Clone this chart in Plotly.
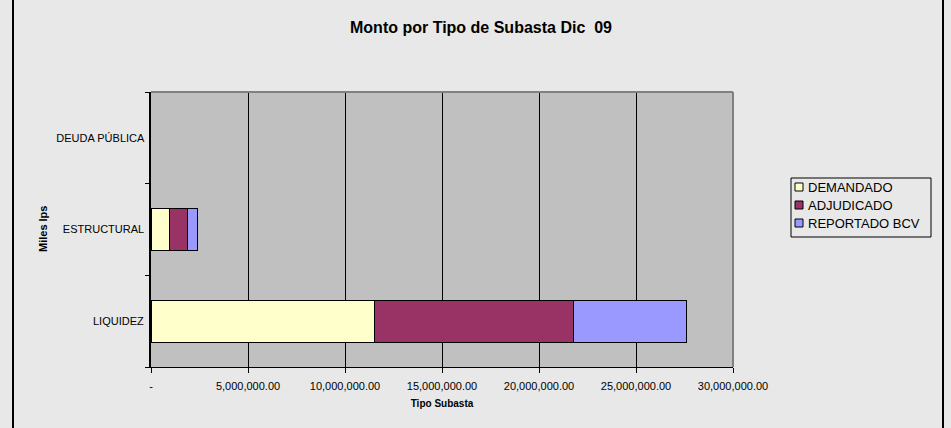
import plotly.graph_objects as go

categories = ["LIQUIDEZ", "ESTRUCTURAL", "DEUDA PÚBLICA"]
series_names = ["DEMANDADO", "ADJUDICADO", "REPORTADO BCV"]
demandado = [11500000, 950000, 0]
adjudicado = [10300000, 940000, 0]
reportado = [5790000, 490000, 0]
colors = ["#FFFFCC", "#993366", "#9999FF"]
tick_vals = [0, 5000000, 10000000, 15000000, 20000000, 25000000, 30000000]
tick_text = ["-", "5,000,000.00", "10,000,000.00", "15,000,000.00",
             "20,000,000.00", "25,000,000.00", "30,000,000.00"]

# plot area in pixels
L, R, T, B = 151, 733, 92, 367
W, H = 951, 428
pw, ph = R - L, B - T


def px(x):
    return (x - L) / pw


def py(y):
    return (B - y) / ph


fig = go.Figure()
for name, vals, col in zip(series_names, [demandado, adjudicado, reportado], colors):
    fig.add_trace(go.Bar(
        y=categories, x=vals, name=name, orientation="h",
        marker=dict(color=col,
                    line=dict(color="#000000", width=[1 if v > 0 else 0 for v in vals])),
    ))

shapes = [
    dict(type="line", xref="paper", yref="paper", x0=0, x1=1, y0=1, y1=1,
         line=dict(color="#808080", width=2)),
    dict(type="line", xref="paper", yref="paper", x0=1, x1=1, y0=0, y1=1,
         line=dict(color="#808080", width=2)),
    dict(type="line", xref="paper", yref="paper", x0=px(13), x1=px(13), y0=py(440), y1=py(-10),
         line=dict(color="#000000", width=2)),
    dict(type="line", xref="paper", yref="paper", x0=px(943), x1=px(943), y0=py(440), y1=py(-10),
         line=dict(color="#000000", width=2)),
    # legend box
    dict(type="rect", xref="paper", yref="paper", x0=px(791), x1=px(931), y0=py(237), y1=py(178),
         line=dict(color="#000000", width=1), fillcolor="rgba(0,0,0,0)"),
]
annotations = [
    dict(text="<b>Miles lps</b>", xref="paper", yref="paper", x=px(43), y=py(229),
         textangle=-90, showarrow=False, font=dict(size=11), xanchor="center", yanchor="middle"),
]
for i, (name, col) in enumerate(zip(series_names, colors)):
    cy = 187 + i * 18
    shapes.append(dict(type="rect", xref="paper", yref="paper",
                       x0=px(795), x1=px(803), y0=py(cy + 4), y1=py(cy - 4),
                       line=dict(color="#000000", width=1), fillcolor=col))
    annotations.append(dict(text=name, xref="paper", yref="paper", x=px(806), y=py(cy),
                            xanchor="left", yanchor="middle", showarrow=False,
                            font=dict(size=13)))

fig.update_layout(
    barmode="stack",
    bargap=0.54,
    width=W, height=H,
    margin=dict(l=L, r=W - R, t=T, b=H - B, autoexpand=False),
    paper_bgcolor="#E8E8E8",
    plot_bgcolor="#C0C0C0",
    font=dict(family="Arial, Liberation Sans, sans-serif", color="#000000"),
    title=dict(text="<b>Monto por Tipo de Subasta Dic  09</b>",
               x=px(481), xref="paper", xanchor="center", y=1 - 27 / H, yanchor="middle",
               font=dict(size=16, family="Arial, Liberation Sans, sans-serif")),
    xaxis=dict(
        range=[0, 30000000], tickvals=tick_vals, ticktext=tick_text,
        showgrid=True, gridcolor="#000000", gridwidth=1,
        showline=True, linecolor="#000000", linewidth=1,
        ticks="outside", ticklen=5, tickcolor="#000000", ticklabelstandoff=4,
        tickfont=dict(size=11), zeroline=False,
        title=dict(text="<b>Tipo Subasta</b>", font=dict(size=10), standoff=8),
    ),
    yaxis=dict(
        categoryorder="array", categoryarray=categories,
        showgrid=False, showline=True, linecolor="#000000", linewidth=2,
        ticks="outside", ticklen=4, tickcolor="#000000", tickson="boundaries",
        tickfont=dict(size=11), ticksuffix=" ",
    ),
    showlegend=False,
    shapes=shapes,
    annotations=annotations,
)

fig.write_html("out.html", config={"displayModeBar": False},
               post_script="document.body.style.margin='0';document.body.style.overflow='hidden';")
